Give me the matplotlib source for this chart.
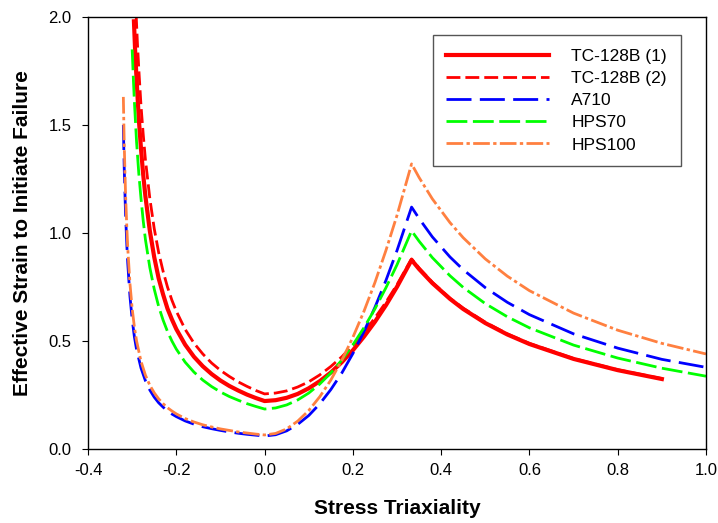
import matplotlib
matplotlib.use("Agg")
import matplotlib.pyplot as plt

plt.rcParams['font.family'] = ['Liberation Sans', 'DejaVu Sans']

# shared x positions on the tension side
x_tens = [0.0, 0.025, 0.05, 0.075, 0.10, 0.125, 0.15, 0.175, 0.20, 0.225, 0.25, 0.275, 0.30, 0.333,
          0.35, 0.38, 0.42, 0.45, 0.50, 0.55, 0.60, 0.70, 0.80, 0.90]
x_comp_mid = [-0.27, -0.26, -0.25, -0.24, -0.23, -0.22, -0.21, -0.20, -0.18, -0.16, -0.14,
              -0.12, -0.10, -0.08, -0.06, -0.04, -0.02]

# TC-128B (1)
x_tc1 = [-0.296, -0.293, -0.29, -0.285, -0.28, -0.275] + x_comp_mid + x_tens
y_tc1 = [1.98, 1.83, 1.71, 1.53, 1.39, 1.27,
         1.17, 1.01, 0.888, 0.79, 0.716, 0.65, 0.60, 0.555, 0.483, 0.427, 0.383,
         0.347, 0.317, 0.292, 0.271, 0.252, 0.236,
         0.222, 0.226, 0.237, 0.255, 0.281, 0.314, 0.354, 0.402, 0.457, 0.520, 0.589, 0.666, 0.751, 0.875,
         0.833, 0.768, 0.695, 0.648, 0.583, 0.530, 0.486, 0.417, 0.365, 0.324]

# TC-128B (2)
x_tc2 = [-0.291, -0.288, -0.285, -0.28, -0.275] + x_comp_mid + x_tens
y_tc2 = [2.01, 1.875, 1.76, 1.59, 1.457,
         1.34, 1.16, 1.02, 0.91, 0.823, 0.75, 0.689, 0.638, 0.554, 0.490, 0.440,
         0.398, 0.364, 0.336, 0.311, 0.290, 0.271,
         0.255, 0.259, 0.269, 0.287, 0.311, 0.343, 0.382, 0.427, 0.480, 0.540, 0.607, 0.680, 0.761, 0.880,
         0.838, 0.772, 0.698, 0.652, 0.587, 0.533, 0.489, 0.419, 0.367, 0.326]

# A710
x_a710 = [-0.32, -0.318, -0.315, -0.312, -0.31, -0.305, -0.30, -0.295, -0.29, -0.28] + x_comp_mid + x_tens + [1.0]
y_a710 = [1.50, 1.30, 1.09, 0.94, 0.86, 0.706, 0.60, 0.52, 0.46, 0.375,
          0.316, 0.273, 0.24, 0.214, 0.194, 0.176, 0.162, 0.15, 0.130, 0.115, 0.103,
          0.094, 0.086, 0.079, 0.073, 0.068, 0.064,
          0.06, 0.066, 0.084, 0.114, 0.155, 0.209, 0.275, 0.352, 0.442, 0.543, 0.656, 0.781, 0.919, 1.12,
          1.067, 0.982, 0.889, 0.830, 0.747, 0.679, 0.622, 0.533, 0.467, 0.415, 0.378]

# HPS70
x_hps70 = [-0.300, -0.297, -0.295, -0.29, -0.285, -0.28, -0.275] + x_comp_mid + x_tens + [1.0]
y_hps70 = [1.85, 1.70, 1.61, 1.42, 1.276, 1.16, 1.057,
           0.97, 0.84, 0.74, 0.66, 0.597, 0.544, 0.50, 0.4625, 0.402, 0.356, 0.319,
           0.289, 0.264, 0.243, 0.226, 0.210, 0.197,
           0.185, 0.190, 0.204, 0.227, 0.259, 0.301, 0.352, 0.412, 0.482, 0.561, 0.649, 0.747, 0.853, 1.01,
           0.962, 0.886, 0.802, 0.748, 0.673, 0.612, 0.561, 0.481, 0.421, 0.374, 0.337]

# HPS100
x_hps100 = [-0.32, -0.318, -0.315, -0.312, -0.31, -0.305, -0.30, -0.295, -0.29, -0.28] + x_comp_mid + x_tens + [1.0]
y_hps100 = [1.63, 1.41, 1.18, 1.02, 0.93, 0.765, 0.65, 0.565, 0.50, 0.406,
            0.342, 0.295, 0.26, 0.232, 0.210, 0.191, 0.176, 0.1625, 0.141, 0.125, 0.112,
            0.102, 0.093, 0.086, 0.079, 0.074, 0.069,
            0.065, 0.072, 0.093, 0.129, 0.178, 0.242, 0.319, 0.411, 0.517, 0.637, 0.771, 0.920, 1.082, 1.32,
            1.257, 1.158, 1.048, 0.978, 0.88, 0.80, 0.733, 0.629, 0.55, 0.489, 0.44]

fig = plt.figure(figsize=(7.18, 5.23), dpi=100)
ax = fig.add_axes([0.1226, 0.1415, 0.8607, 0.826])

ax.plot(x_tc1, y_tc1, color='#ff0000', lw=3.0, label='TC-128B (1)')
ax.plot(x_tc2, y_tc2, color='#ff0000', lw=2.0, dashes=(5, 1.8), label='TC-128B (2)')
ax.plot(x_a710, y_a710, color='#0000ff', lw=2.0, dashes=(9, 3), label='A710')
ax.plot(x_hps70, y_hps70, color='#00ff00', lw=2.0, dashes=(7.5, 2), label='HPS70')
ax.plot(x_hps100, y_hps100, color='#ff8040', lw=2.0, dashes=(6, 1.2, 1.2, 1.2), label='HPS100')

ax.set_xlim(-0.4, 1.0)
ax.set_ylim(0, 2.0)
ax.set_xticks([-0.4, -0.2, 0.0, 0.2, 0.4, 0.6, 0.8, 1.0])
ax.set_xticklabels(['-0.4', '-0.2', '0.0', '0.2', '0.4', '0.6', '0.8', '1.0'])
ax.set_yticks([0.0, 0.5, 1.0, 1.5, 2.0])
ax.set_yticklabels(['0.0', '0.5', '1.0', '1.5', '2.0'])
ax.tick_params(direction='out', length=4, labelsize=12, top=False, right=False)
ax.tick_params(axis='x', pad=6)
ax.tick_params(axis='y', pad=8)
for s in ax.spines.values():
    s.set_linewidth(1.0)

ax.set_xlabel('Stress Triaxiality', fontsize=15, fontweight='bold', labelpad=15)
ax.set_ylabel('Effective Strain to Initiate Failure', fontsize=15, fontweight='bold', labelpad=12)

leg = ax.legend(loc='upper right', bbox_to_anchor=(0.9595, 0.958), borderaxespad=0,
                fontsize=12.5, handlelength=5.9, handletextpad=1.3, labelspacing=0.4,
                fancybox=False, framealpha=1, borderpad=0.8)
leg.get_frame().set_edgecolor('#555555')
leg.get_frame().set_linewidth(1.0)

fig.savefig('out.png', dpi=100)
